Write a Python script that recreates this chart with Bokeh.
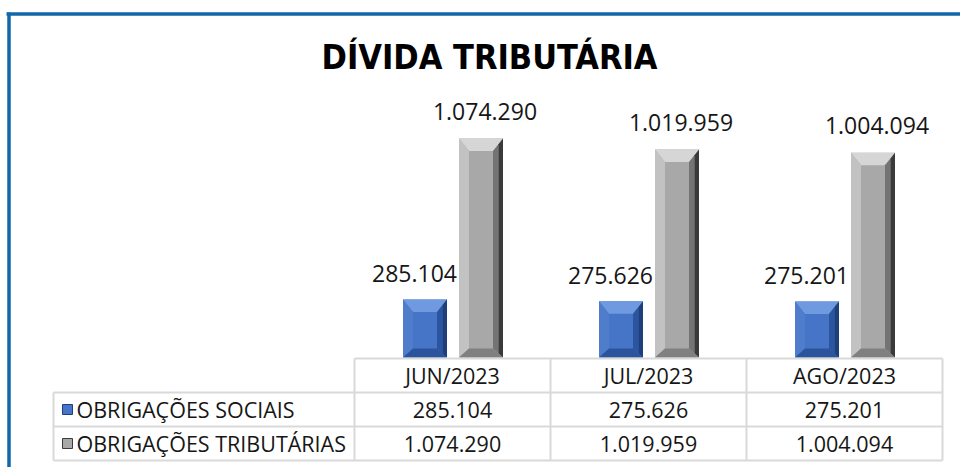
from bokeh.plotting import figure
from bokeh.models import Range1d
from bokeh.embed import file_html
from bokeh.resources import INLINE
from bokeh.core.properties import value

# ---------------- data ----------------
title_text = "DÍVIDA TRIBUTÁRIA"
months = ["JUN/2023", "JUL/2023", "AGO/2023"]
series_names = ["OBRIGAÇÕES SOCIAIS", "OBRIGAÇÕES TRIBUTÁRIAS"]
sociais = [285104, 275626, 275201]
tributarias = [1074290, 1019959, 1004094]


def fmt(v):
    return f"{v:,}".replace(",", ".")


# ---------------- layout (page pixels) ----------------
W, H = 960, 467
PAGE = 0
COL_W = 196.0        # width of one month column
COL0 = 452.0         # page x of first month column centre
BASE_Y = 357.0       # page y of value 0
TOP_Y = 138.0        # page y of largest value
ROW_TOP = 358.0
ROW_H = 34.0
LEG_LEFT = 53.0
BAR_W = 44.0 / COL_W
OFFS = [-27.5 / COL_W, 28.5 / COL_W]
BEV = 10.0

k = max(tributarias) / (BASE_Y - TOP_Y)      # value units per pixel

FONT = value("Open Sans")
TXT = "#161616"

p = figure(width=W, height=H, output_backend="svg", toolbar_location=None,
           x_axis_location=None, y_axis_location=None,
           x_range=Range1d((PAGE - COL0) / COL_W, (PAGE + W - COL0) / COL_W),
           y_range=Range1d(-(PAGE + H - BASE_Y) * k, (BASE_Y - PAGE) * k),
           min_border=0, outline_line_color=None, background_fill_color="white")
p.grid.visible = False
p.extra_x_ranges = {"px": Range1d(PAGE, PAGE + W)}
p.extra_y_ranges = {"px": Range1d(PAGE + H, PAGE)}

# ---------------- blue frame ----------------
p.segment(x0=[6, 8.5], y0=[13.5, 12], x1=[PAGE + W, 8.5], y1=[13.5, PAGE + H],
          line_color="#1267a8", line_width=3.5,
          x_range_name="px", y_range_name="px")

# ---------------- title ----------------
p.text(x=[489], y=[56], text=[title_text], x_range_name="px", y_range_name="px",
       text_font=value("'DejaVu Sans Condensed', Roboto, sans-serif"),
       text_font_style="bold",
       text_font_size="34px", text_align="center", text_baseline="middle",
       text_color="#000000")

# ---------------- bevelled bars ----------------
styles = [
    dict(top="#709ae0", left="#4f7dcc", mid="#4675c7", right="#1f3f7c", right2="#2c55a0", bottom="#2b549d"),
    dict(top="#d6d6d6", left="#c2c2c2", mid="#a8a8a8", right="#3a3a3a", right2="#747474", bottom="#808080"),
]

for s, vals in enumerate([sociais, tributarias]):
    st = styles[s]
    faces = {"top": ([], []), "left": ([], []), "mid": ([], []), "right": ([], []),
             "right2": ([], []), "bottom": ([], [])}
    for i, v in enumerate(vals):
        xc = i + OFFS[s]
        x0, x1 = xc - BAR_W / 2, xc + BAR_W / 2
        bx = BEV / COL_W
        by = 12.5 * k
        bb = 9.0 * k
        faces["mid"][0].append([x0, x1, x1, x0])
        faces["mid"][1].append([0, 0, v, v])
        faces["top"][0].append([x0, x1, x1 - bx, x0 + bx])
        faces["top"][1].append([v, v, v - by, v - by])
        faces["left"][0].append([x0, x0 + bx, x0 + bx, x0])
        faces["left"][1].append([v, v - by, bb, 0])
        faces["right2"][0].append([x1 - bx, x1 - bx * 0.45, x1 - bx * 0.45, x1 - bx])
        faces["right2"][1].append([v - by, v - by * 0.45, bb * 0.45, bb])
        faces["right"][0].append([x1 - bx * 0.45, x1, x1, x1 - bx * 0.45])
        faces["right"][1].append([v - by * 0.45, v, 0, bb * 0.45])
        faces["bottom"][0].append([x0, x1, x1 - bx, x0 + bx])
        faces["bottom"][1].append([0, 0, bb, bb])
    for f in ["mid", "top", "left", "right2", "right", "bottom"]:
        p.patches(xs=faces[f][0], ys=faces[f][1], fill_color=st[f], line_color=None)

# value labels above bars
# blue labels: right edge just left of the neighbouring grey bar
p.text(x=[i + OFFS[1] - BAR_W / 2 for i in range(len(sociais))], y=sociais,
       text=[fmt(v) for v in sociais], text_font=FONT, text_font_size="23px",
       text_align="right", text_baseline="alphabetic", x_offset=-2, y_offset=-26,
       text_color=TXT)
# grey labels: centred over bar (slightly right)
p.text(x=[i + OFFS[1] for i in range(len(tributarias))], y=tributarias,
       text=[fmt(v) for v in tributarias], text_font=FONT, text_font_size="23px",
       text_align="center", text_baseline="alphabetic", x_offset=4, y_offset=-27,
       text_color=TXT)

# ---------------- data table ----------------
n = len(months)
row_y = [ROW_TOP + r * ROW_H for r in range(4)]
GRID = "#d9d9d9"


def col_px(edge):
    return COL0 + edge * COL_W


right_px = col_px(n - 0.5)
left_cols_px = col_px(-0.5)
hx0 = [left_cols_px, LEG_LEFT, LEG_LEFT, LEG_LEFT]
hx1 = [right_px] * 4
p.segment(x0=hx0, y0=row_y, x1=hx1, y1=row_y, line_color=GRID, line_width=2,
          x_range_name="px", y_range_name="px")
vx = [col_px(j - 0.5) for j in range(n + 1)]
p.segment(x0=vx, y0=[row_y[0]] * len(vx), x1=vx, y1=[row_y[3]] * len(vx),
          line_color=GRID, line_width=2, x_range_name="px", y_range_name="px")
p.segment(x0=[LEG_LEFT], y0=[row_y[1]], x1=[LEG_LEFT], y1=[row_y[3]],
          line_color=GRID, line_width=2, x_range_name="px", y_range_name="px")

# header (months)
p.text(x=list(range(n)), y=[row_y[0] + ROW_H / 2] * n, text=months,
       y_range_name="px", text_font=FONT, text_font_size="21.5px",
       text_align="center", text_baseline="middle", text_color=TXT)

# value rows
for s, vals in enumerate([sociais, tributarias]):
    yc = row_y[s + 1] + ROW_H / 2
    p.text(x=list(range(n)), y=[yc] * n, text=[fmt(v) for v in vals],
           y_range_name="px", text_font=FONT, text_font_size="21.5px",
           text_align="center", text_baseline="middle", text_color=TXT)
    # legend key
    p.rect(x=[67], y=[yc], width=10, height=10, fill_color=styles[s]["mid"],
           line_color=styles[s]["right"], line_width=1,
           x_range_name="px", y_range_name="px")
    p.text(x=[76], y=[yc], text=[series_names[s]], x_range_name="px",
           y_range_name="px", text_font=FONT, text_font_size="21.5px",
           text_align="left", text_baseline="middle", text_color=TXT)

open("out.html", "w").write(file_html(p, INLINE))
